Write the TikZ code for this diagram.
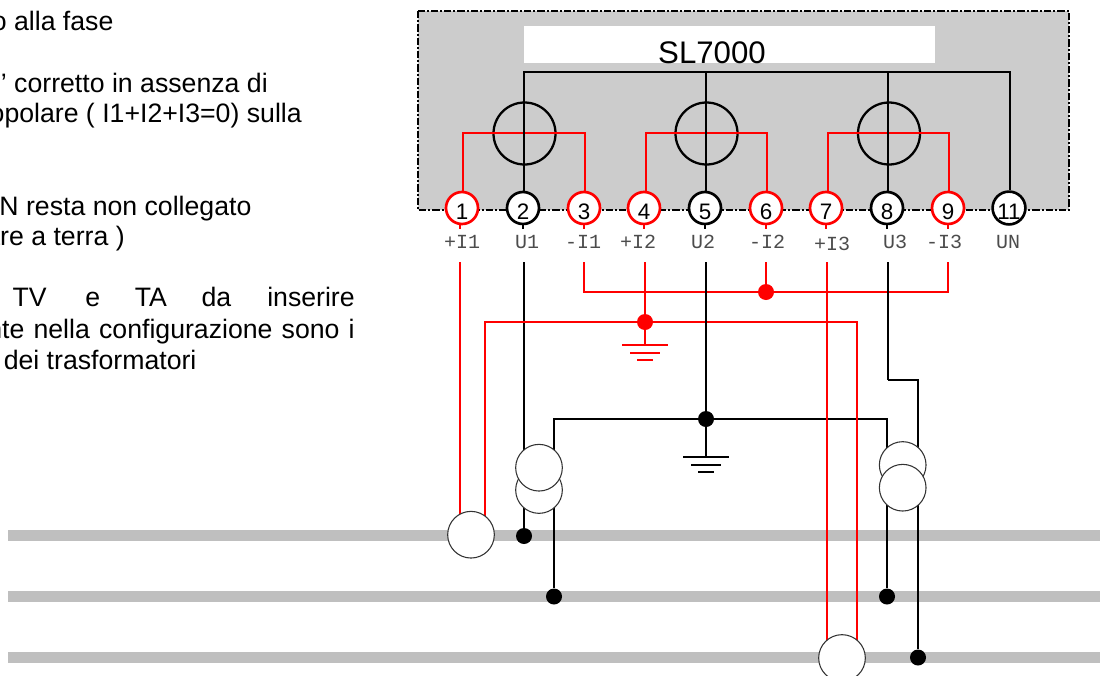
\documentclass[tikz,border=0pt]{standalone}
\usepackage{fontspec}
\setmainfont{Liberation Sans}
\newfontfamily\termfont{Liberation Mono}
\definecolor{boxgray}{HTML}{CCCCCC}
\definecolor{phasegray}{HTML}{BFBFBF}
\tikzset{
	blackwire/.style={draw=black, line width=1.9pt},
	redwire/.style={draw=red, line width=1.9pt},
	phasebar/.style={draw=none, fill=phasegray},
	blackterm/.style={circle, draw=black, fill=white, line width=2pt, minimum size=24pt, inner sep=0pt, text height=17.5pt, text depth=0pt, font=\fontsize{16.8}{17}\selectfont},
	redterm/.style={blackterm, draw=red},
	coil/.style={circle, draw=black, line width=1.7pt, minimum size=46.5pt, inner sep=0pt},
	trafo/.style={circle, draw=black!80, fill=white, line width=0.8pt, minimum size=35pt, inner sep=0pt},
	blackdot/.style={circle, fill=black, minimum size=12pt, inner sep=0pt},
	reddot/.style={circle, fill=red, minimum size=12pt, inner sep=0pt},
	termlabel/.style={anchor=base, inner sep=0pt, text=black!70, font=\termfont\fontsize{15}{15}\selectfont},
	note/.style={anchor=base east, inner sep=0pt, font=\fontsize{20}{24}\selectfont},
}
\begin{document}
\begin{tikzpicture}[x=0.75pt, y=-0.75pt]
		\useasboundingbox (0,0) rectangle (1102,675);
		% phases
		\fill[phasebar] (8,530) rectangle (1100,541);
		\fill[phasebar] (8,591) rectangle (1100,602);
		\fill[phasebar] (8,652) rectangle (1100,663);
		% meter box
		\draw[fill=boxgray, line width=1.4pt, dash pattern=on 5.5pt off 1.5pt on 1.5pt off 1.5pt] (418,11) rectangle (1069,210);
		\fill[white] (524,26) rectangle (935,63);
		\node at (712,63) [anchor=base, inner sep=0pt, font=\fontsize{23.4}{24}\selectfont] (title) {SL7000};
		% notes
		\node at (113.7,30.7) [note] (n1) {o alla fase};
		\node at (268,92) [note] (n2) {e’ corretto in assenza di};
		\node at (302,122.7) [note] (n3) {opolare ( I1+I2+I3=0) sulla};
		\node at (251.7,215) [note] (n4) {N resta non collegato};
		\node at (125,245) [note] (n5) {are a terra )};
		\node at (355,306) [note] (n6) {TV\hspace{29pt}e\hspace{26pt}TA\hspace{26pt}da\hspace{27pt}inserire};
		\node at (355,338) [note] (n7) {\spaceskip=6.9pt nte nella configurazione sono i};
		\node at (196.7,369) [note] (n8) {dei trasformatori};
		% terminals
		\node at (462,208) [redterm] (t1) {1};
		\node at (523,208) [blackterm] (t2) {2};
		\node at (584,208) [redterm] (t3) {3};
		\node at (644,208) [redterm] (t4) {4};
		\node at (705,208) [blackterm] (t5) {5};
		\node at (766,208) [redterm] (t6) {6};
		\node at (826,208) [redterm] (t7) {7};
		\node at (887,208) [blackterm] (t8) {8};
		\node at (948,208) [redterm] (t9) {9};
		\node at (1009,208) [blackterm] (t11) {11};
		% terminal names
		\node at (462,248.3) [termlabel] (l1) {+I1};
		\node at (527,248.3) [termlabel] (l2) {U1};
		\node at (583,248.3) [termlabel] (l3) {-I1};
		\node at (638,248.3) [termlabel] (l4) {+I2};
		\node at (703,248.3) [termlabel] (l5) {U2};
		\node at (767,248.3) [termlabel] (l6) {-I2};
		\node at (832,250) [termlabel] (l7) {+I3};
		\node at (895,248.3) [termlabel] (l8) {U3};
		\node at (944,248.3) [termlabel] (l9) {-I3};
		\node at (1008,248.3) [termlabel] (l11) {UN};
		% points on the wires
		\coordinate (b2) at (524,72);
		\coordinate (b5) at (706,72);
		\coordinate (b8) at (888,72);
		\coordinate (b11) at (1010,72);
		\coordinate (r1) at (463,133);
		\coordinate (r3) at (585,133);
		\coordinate (r4) at (646,133);
		\coordinate (r6) at (767,133);
		\coordinate (r7) at (828,133);
		\coordinate (r9) at (949,133);
		\coordinate (w1) at (460,262);
		\coordinate (w2) at (524,262);
		\coordinate (w3) at (584,262);
		\coordinate (w4) at (645,262);
		\coordinate (w5) at (706,262);
		\coordinate (w6) at (766,262);
		\coordinate (w7) at (827,262);
		\coordinate (w8) at (888,262);
		\coordinate (w9) at (948,262);
		\coordinate (k1) at (888,380);
		\coordinate (k2) at (918,380);
		\coordinate (s1) at (485,322);
		\coordinate (s2) at (857,322);
		\coordinate (e1) at (554,419);
		\coordinate (e2) at (887,419);
		\coordinate (gr1) at (645,345);
		\coordinate (gr2) at (706,457);
		% meter elements
		\node at (524.5,133.5) [coil] (m1) {};
		\node at (706.5,133.5) [coil] (m2) {};
		\node at (889,133.5) [coil] (m3) {};
		\draw[redwire] (r1 |- t1.north) -- (r1) -- (r3) -- (r3 |- t3.north);
		\draw[redwire] (r4 |- t4.north) -- (r4) -- (r6) -- (r6 |- t6.north);
		\draw[redwire] (r7 |- t7.north) -- (r7) -- (r9) -- (r9 |- t9.north);
		\draw[blackwire] (b2 |- t2.north) -- (b2) -- (b11) -- (b11 |- t11.north);
		\draw[blackwire] (b5) -- (b5 |- t5.north);
		\draw[blackwire] (b8) -- (b8 |- t8.north);
		% stubs under the terminals
		\draw[redwire] (w1 |- t1.south) -- ++(0,4);
		\draw[blackwire] (t2.south) -- ++(0,4);
		\draw[redwire] (t3.south) -- ++(0,4);
		\draw[redwire] (t4.south) -- ++(0,4);
		\draw[blackwire] (t5.south) -- ++(0,4);
		\draw[redwire] (t6.south) -- ++(0,4);
		\draw[redwire] (t7.south) -- ++(0,4);
		\draw[blackwire] (t8.south) -- ++(0,4);
		\draw[redwire] (t9.south) -- ++(0,4);
		% transformers
		\node at (471,534.7) [coordinate] (ct1) {};
		\node at (842,658) [coordinate] (ct3) {};
		\node at (539,490) [coordinate] (vb1) {};
		\node at (539,467.7) [coordinate] (va1) {};
		\node at (902.7,465) [coordinate] (va2) {};
		\node at (902.7,487.7) [coordinate] (vb2) {};
		% wiring below
		\draw[blackwire] (e1 |- va1) -- (e1) -- (e2) -- (e2 |- va2);
		\draw[blackwire] (w2) -- (w2 |- va1);
		\draw[blackwire] (k1) -- (k2) -- (k2 |- va2);
		\draw[redwire] (w1) -- (w1 |- ct1);
		\draw[redwire] (w3) |- (w9 |- 0,292) -- (w9);
		\draw[redwire] (w6) -- (w6 |- 0,292);
		\draw[redwire] (w4) -- (gr1);
		\draw[redwire] (s1 |- ct1) -- (s1) -- (s2) -- (s2 |- ct3);
		\draw[redwire] (w7) -- (w7 |- ct3);
		\draw[blackwire] (w5) -- (gr2);
		\draw[blackwire] (w8) -- (k1);
		% grounds
		\draw[redwire] (gr1) ++(-23,0) -- ++(46,0);
		\draw[redwire] (gr1) ++(-15,8) -- ++(30,0);
		\draw[redwire] (gr1) ++(-8,15) -- ++(16,0);
		\draw[blackwire] (gr2) ++(-23,0) -- ++(46,0);
		\draw[blackwire] (gr2) ++(-15,8) -- ++(30,0);
		\draw[blackwire] (gr2) ++(-8,15) -- ++(16,0);
		% junctions
		\node at (766,292) [reddot] (j1) {};
		\node at (645,322) [reddot] (j2) {};
		\node at (706,419) [blackdot] (j3) {};
		\node at (524,536) [blackdot] (j4) {};
		\node at (554,596.5) [blackdot] (j5) {};
		\node at (887,596.5) [blackdot] (j6) {};
		\node at (918,657.5) [blackdot] (j7) {};
		\draw[blackwire] (w2 |- vb1) -- (j4);
		\draw[blackwire] (e1 |- vb1) -- (j5);
		\draw[blackwire] (e2 |- vb2) -- (j6);
		\draw[blackwire] (k2 |- vb2) -- (j7);
		\node at (ct1) [trafo] (c1) {};
		\node at (ct3) [trafo] (c3) {};
		\node at (vb1) [trafo] (v1b) {};
		\node at (va1) [trafo] (v1a) {};
		\node at (va2) [trafo] (v2a) {};
		\node at (vb2) [trafo] (v2b) {};
	\end{tikzpicture}
\end{document}
